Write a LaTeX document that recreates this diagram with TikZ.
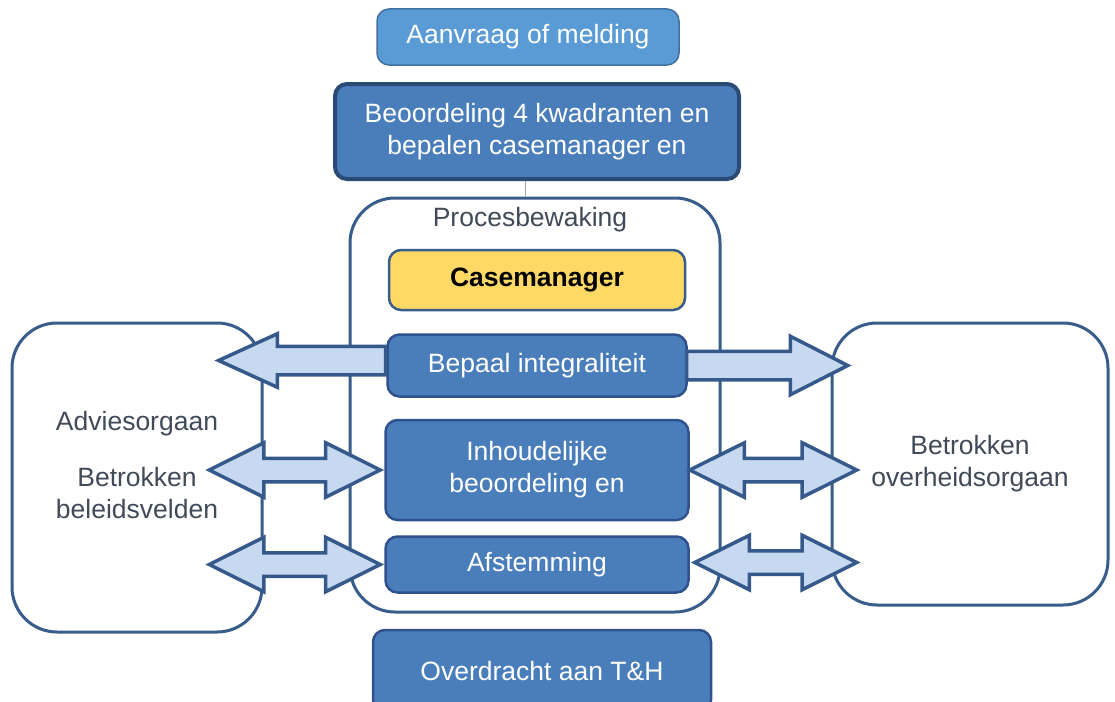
\documentclass[tikz,border=0pt]{standalone}
\usepackage{fontspec}
\setmainfont{Liberation Sans}
\usetikzlibrary{calc}
\usetikzlibrary{positioning}
\usetikzlibrary{shapes.arrows}
\usetikzlibrary{backgrounds}
\definecolor{aanvraagvul}{HTML}{5B9BD5}
\definecolor{aanvraagrand}{HTML}{41719C}
\definecolor{blokvul}{HTML}{4A7EBB}
\definecolor{blokrand}{HTML}{2F528F}
\definecolor{donkerrand}{HTML}{2C4A76}
\definecolor{geelvul}{HTML}{FFD966}
\definecolor{kaderrand}{HTML}{385D8A}
\definecolor{pijlvul}{HTML}{C6D9F1}
\definecolor{pijlrand}{HTML}{35598A}
\definecolor{tekstgrijs}{HTML}{404A58}
\newcommand\boxfont{\fontsize{26.5}{32}\selectfont}
\tikzstyle{blocknode} = [draw=blokrand, line width=2.5pt, fill=blokvul, rounded corners=12pt, text=white, align=center, font=\boxfont, inner sep=0pt]
\tikzstyle{framenode} = [draw=kaderrand, line width=3pt, fill=white, rounded corners=45pt, inner sep=0pt, text=tekstgrijs, align=center, font=\boxfont]
\tikzstyle{textnode} = [inner sep=0pt, text=tekstgrijs, align=center, font=\boxfont]
\tikzstyle{arrownode} = [draw=pijlrand, line width=3.5pt, fill=pijlvul, inner xsep=0pt]

\begin{document}
\begin{tikzpicture}[x=1pt, y=-1pt]
  \useasboundingbox (0,0) rectangle (1115,701);

  \node[blocknode, fill=aanvraagvul, draw=aanvraagrand, line width=1.5pt, minimum width=302, minimum height=56] (aanvraag) at (528,37) {Aanvraag of melding};
  \node[blocknode, draw=donkerrand, line width=4pt, minimum width=404, minimum height=95] (beoordeling) at (537,131.5) {Beoordeling 4 kwadranten en\\bepalen casemanager en};

  \node[blocknode, fill=geelvul, draw=kaderrand, text=black, font=\boxfont\bfseries, minimum width=296, minimum height=60] (casemanager) at (537,280) {Casemanager};
  \node[blocknode, minimum width=299, minimum height=62, below=22pt of casemanager] (bepaal) {Bepaal integraliteit};
  \node[blocknode, minimum width=303, minimum height=100, below=21pt of bepaal] (inhoud) {Inhoudelijke\\beoordeling en};
  \node[blocknode, minimum width=303, minimum height=56, below=14pt of inhoud] (afstemming) {Afstemming};
  \node[blocknode, minimum width=338, minimum height=82] (overdracht) at (542,671) {Overdracht aan T\&H};

  \begin{pgfonlayer}{background}
    \node[framenode, minimum width=370, minimum height=414] (proc) at (535,405) {};
    \node[framenode, minimum width=250, minimum height=309] (advies) at (137,477.5) {};
    \node[framenode, minimum width=276, minimum height=282] (overheid) at (970,464) {Betrokken\\overheidsorgaan};
  \end{pgfonlayer}
  \node[textnode] (proclabel) at ($(proc.north)+(-5,23)$) {Procesbewaking};
  \node[textnode] (adviestekst) at (137,465) {Adviesorgaan\\[24pt]Betrokken\\beleidsvelden};

  \draw[gray!70, line width=0.8pt] ([xshift=-12pt]beoordeling.south) -- ([xshift=-12pt]beoordeling.south |- proc.north);

  % pijlen naar links en rechts
  \node[arrownode, single arrow, shape border rotate=180, inner ysep=12.5pt, minimum height=167, single arrow head extend=12.5pt, single arrow tip angle=49] (naarAdvies) at ($(bepaal.west)+(-68.5,-5)$) {};
  \node[arrownode, single arrow, inner ysep=12.5pt, minimum height=161, single arrow head extend=15pt, single arrow tip angle=54] (naarOverheid) at ($(bepaal.east)+(65.5,0)$) {};
  \node[arrownode, double arrow, inner ysep=10pt, minimum height=171, double arrow head extend=15.5pt, double arrow tip angle=53] (inhoudL) at ($(inhoud.west)+(-89.5,0)$) {};
  \node[arrownode, double arrow, inner ysep=10pt, minimum height=171, double arrow head extend=15.5pt, double arrow tip angle=53] (afstemL) at ($(afstemming.west)+(-89.5,0)$) {};
  \node[arrownode, double arrow, inner ysep=10pt, minimum height=167, double arrow head extend=15.5pt, double arrow tip angle=53] (inhoudR) at ($(inhoud.east)+(83.5,0)$) {};
  \node[arrownode, double arrow, inner ysep=10pt, minimum height=162, double arrow head extend=15.5pt, double arrow tip angle=53] (afstemR) at ($(afstemming.east)+(86,-2)$) {};
\end{tikzpicture}
\end{document}
